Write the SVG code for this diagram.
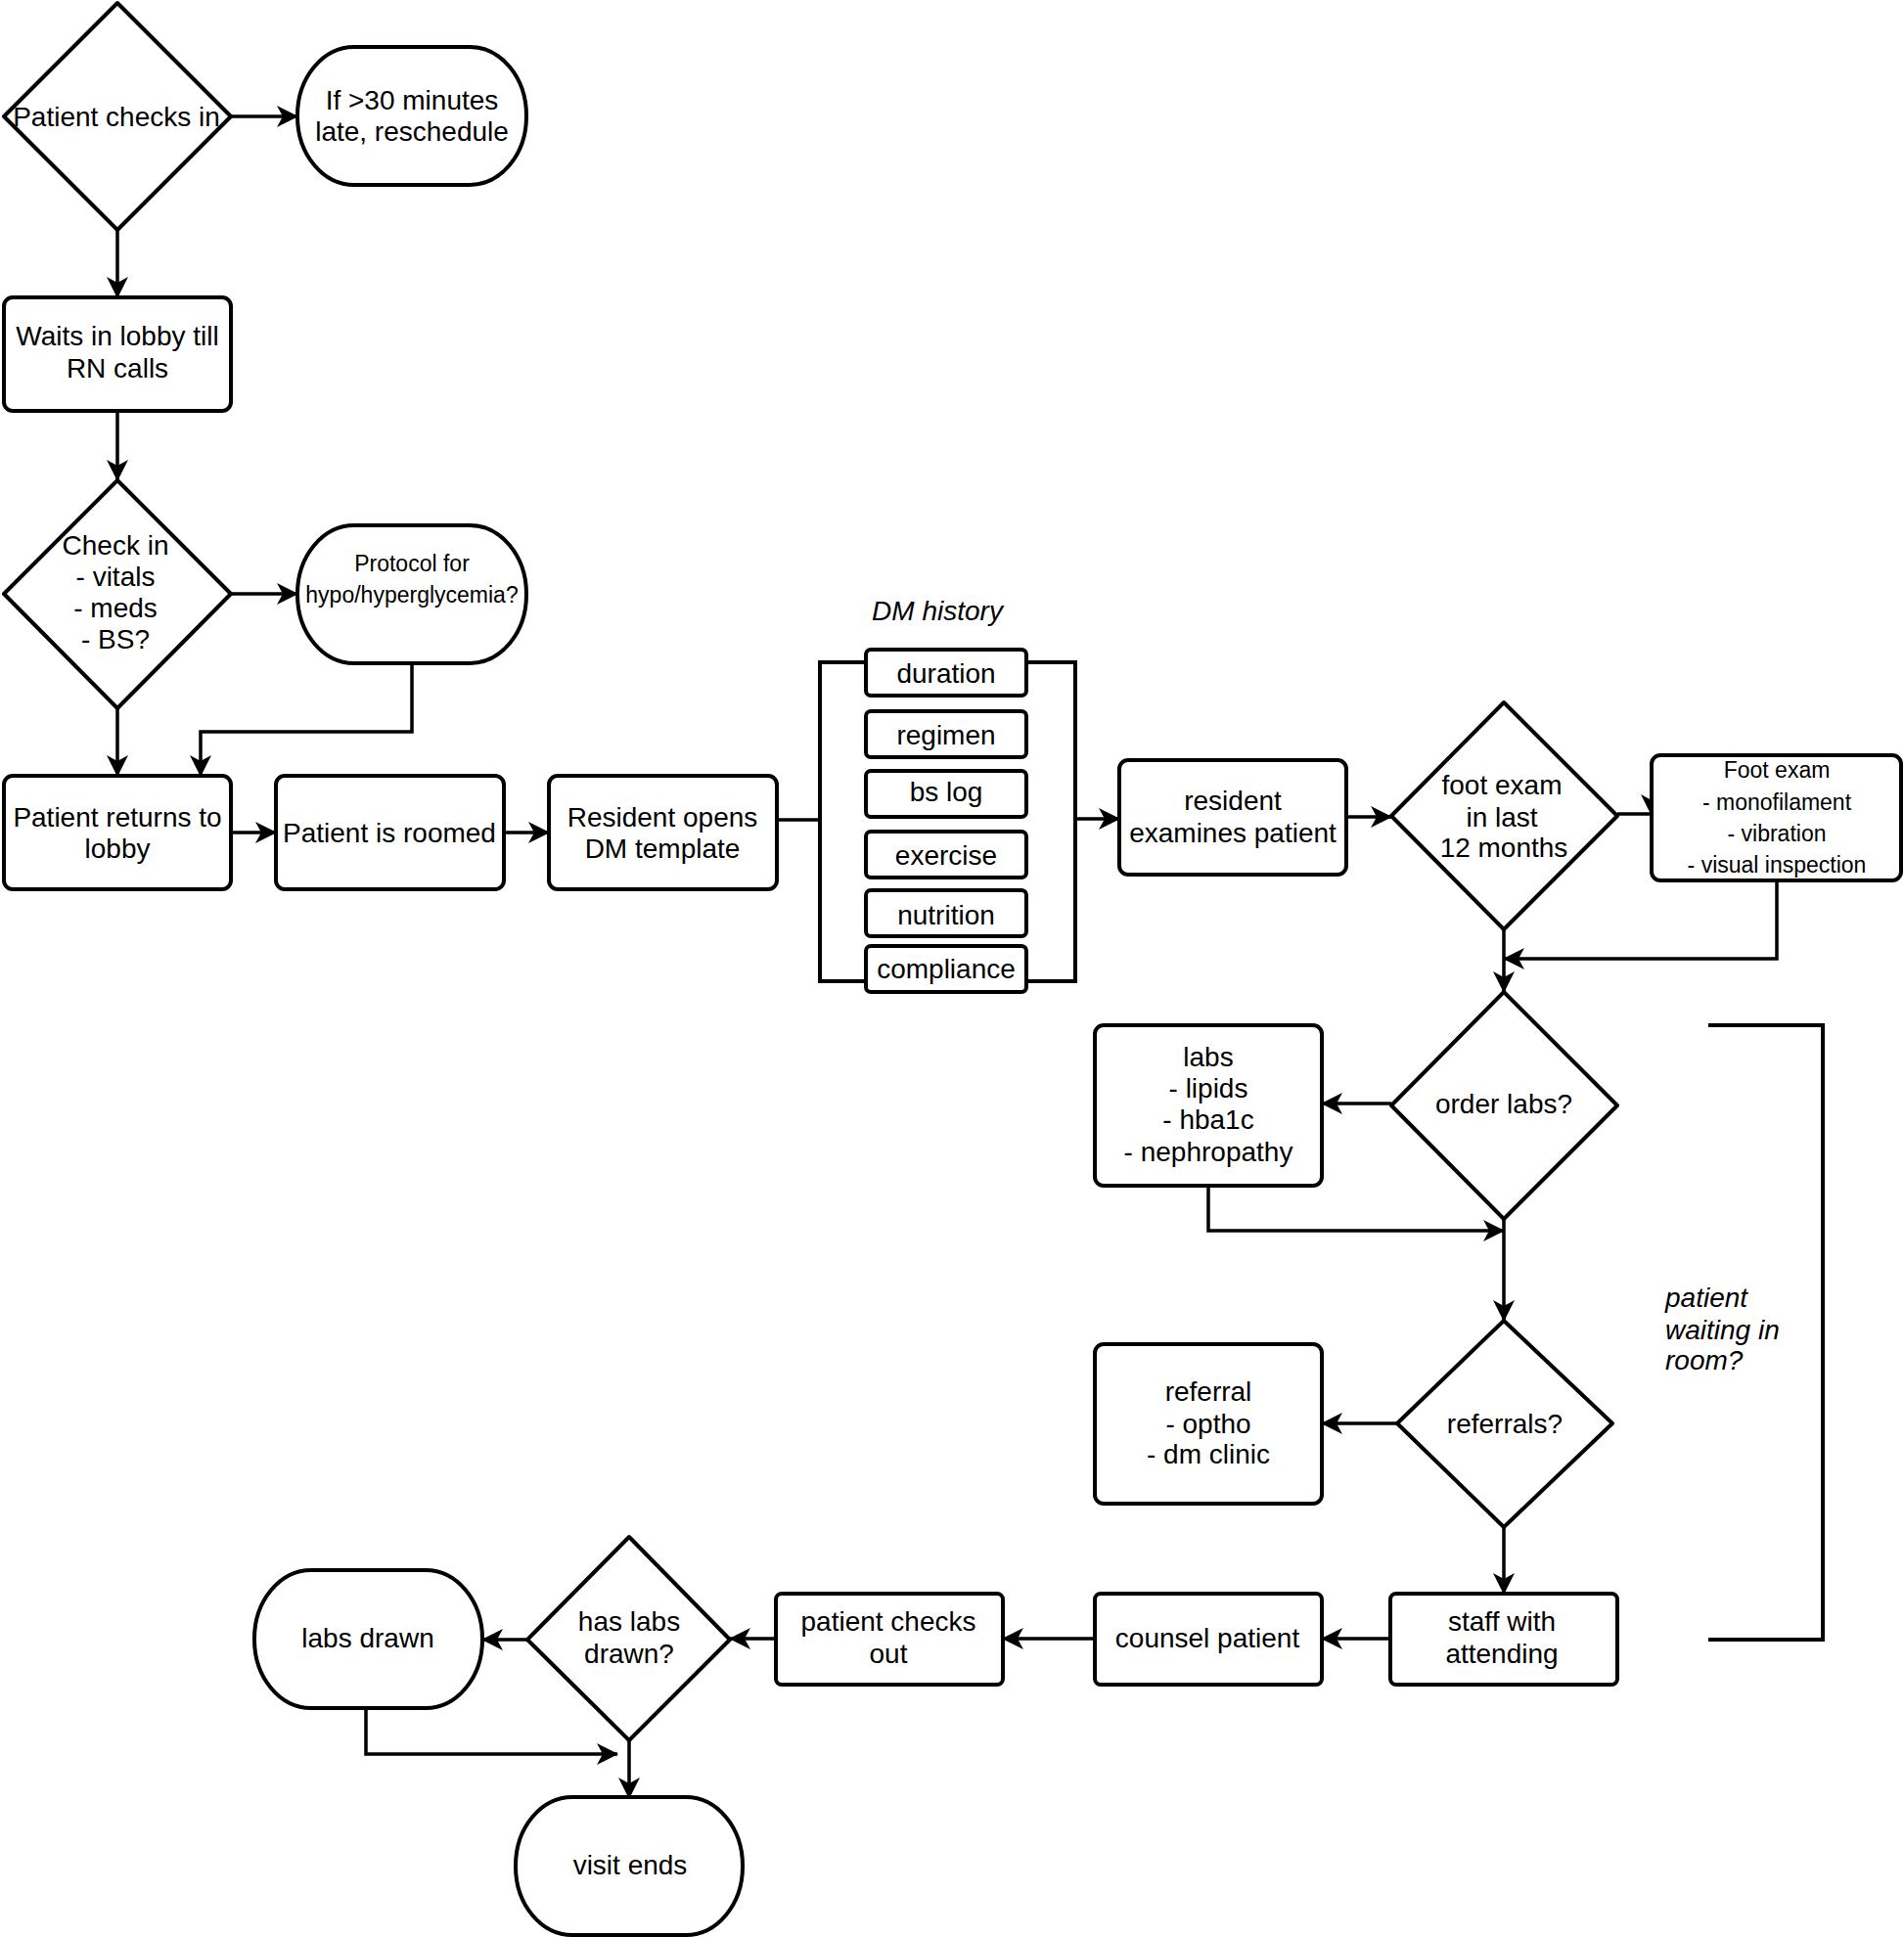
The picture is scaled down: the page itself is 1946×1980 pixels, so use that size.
<svg xmlns="http://www.w3.org/2000/svg" width="1946" height="1980" viewBox="0 0 1946 1980">
<defs>
<style>
.s{fill:#fff;stroke:#000;stroke-width:4;stroke-linejoin:round}
.c{fill:none;stroke:#000;stroke-width:3.5}
.br{fill:none;stroke:#000;stroke-width:4}
text{font-family:"Liberation Sans",Arial,Helvetica,sans-serif;font-size:28px;text-anchor:middle;fill:#000}
.sm{font-size:23px}
.it{font-style:italic}
.l{text-anchor:start}
</style>
<marker id="ah" viewBox="-24 -12 26 24" refX="0" refY="0" markerWidth="26" markerHeight="24" markerUnits="userSpaceOnUse" orient="auto">
<path d="M1,0 L-21,-11 L-15,0 L-21,11 Z" fill="#000"/>
</marker>
</defs>
<rect width="1946" height="1980" fill="#fff"/>

<g id="connectors">
<path class="c" d="M236 119 H304" marker-end="url(#ah)"/>
<path class="c" d="M120 235 V304" marker-end="url(#ah)"/>
<path class="c" d="M120 420 V491" marker-end="url(#ah)"/>
<path class="c" d="M236 607 H304" marker-end="url(#ah)"/>
<path class="c" d="M120 724 V793" marker-end="url(#ah)"/>
<path class="c" d="M421 678 V748 H205 V793" marker-end="url(#ah)"/>
<path class="c" d="M236 851 H282" marker-end="url(#ah)"/>
<path class="c" d="M515 851 H561" marker-end="url(#ah)"/>
<path class="c" d="M794 838 H838"/>
<path class="c" d="M1099 837 H1144" marker-end="url(#ah)"/>
<path class="c" d="M1376 835 H1422" marker-end="url(#ah)"/>
<path class="c" d="M1653 832 H1688 V833" marker-end="url(#ah)"/>
<path class="c" d="M1816 900 V980 H1537" marker-end="url(#ah)"/>
<path class="c" d="M1537 950 V1014" marker-end="url(#ah)"/>
<path class="c" d="M1422 1128 H1351" marker-end="url(#ah)"/>
<path class="c" d="M1235 1212 V1258 H1537" marker-end="url(#ah)"/>
<path class="c" d="M1537 1246 V1350" marker-end="url(#ah)"/>
<path class="c" d="M1428 1455 H1351" marker-end="url(#ah)"/>
<path class="c" d="M1537 1561 V1629" marker-end="url(#ah)"/>
<path class="c" d="M1421 1675 H1351" marker-end="url(#ah)"/>
<path class="c" d="M1119 1675 H1025" marker-end="url(#ah)"/>
<path class="c" d="M793 1675 H746" marker-end="url(#ah)"/>
<path class="c" d="M539 1676 H493" marker-end="url(#ah)"/>
<path class="c" d="M643 1779 V1838" marker-end="url(#ah)"/>
<path class="c" d="M374 1746 V1793 H631" marker-end="url(#ah)"/>
</g>

<g id="dm-bracket">
<path class="br" d="M885 677 H838 V1003 H885"/>
<path class="br" d="M1049 677 H1099 V1003 H1049"/>
</g>

<g id="wait-bracket">
<path class="br" d="M1746 1048 H1863 V1676 H1746"/>
</g>

<g id="n-checkin">
<polygon class="s" points="120,3 236,119 120,235 4,119"/>
<text x="119" y="129">Patient checks in</text>
</g>
<g id="n-late">
<rect class="s" x="304" y="48" width="234" height="141" rx="58" ry="70"/>
<text x="421" y="112">If &gt;30 minutes</text>
<text x="421" y="144">late, reschedule</text>
</g>
<g id="n-wait">
<rect class="s" x="4" y="304" width="232" height="116" rx="9"/>
<text x="120" y="353">Waits in lobby till</text>
<text x="120" y="386">RN calls</text>
</g>
<g id="n-check2">
<polygon class="s" points="120,491 236,607 120,724 4,607"/>
<text x="118" y="567">Check in</text>
<text x="118" y="599">- vitals</text>
<text x="118" y="631">- meds</text>
<text x="118" y="663">- BS?</text>
</g>
<g id="n-protocol">
<rect class="s" x="304" y="537" width="234" height="141" rx="58" ry="70"/>
<text class="sm" x="421" y="584">Protocol for</text>
<text class="sm" x="421" y="616">hypo/hyperglycemia?</text>
</g>
<g id="n-returns">
<rect class="s" x="4" y="793" width="232" height="116" rx="9"/>
<text x="120" y="845">Patient returns to</text>
<text x="120" y="877">lobby</text>
</g>
<g id="n-roomed">
<rect class="s" x="282" y="793" width="233" height="116" rx="9"/>
<text x="398" y="861">Patient is roomed</text>
</g>
<g id="n-template">
<rect class="s" x="561" y="793" width="233" height="116" rx="9"/>
<text x="677" y="845">Resident opens</text>
<text x="677" y="877">DM template</text>
</g>

<g id="n-dmhistory">
<text class="it" x="958" y="634">DM history</text>
</g>
<g id="n-duration">
<rect class="s" x="885" y="664" width="164" height="47" rx="5"/>
<text x="967" y="698">duration</text>
</g>
<g id="n-regimen">
<rect class="s" x="885" y="727" width="164" height="47" rx="5"/>
<text x="967" y="761">regimen</text>
</g>
<g id="n-bslog">
<rect class="s" x="885" y="788" width="164" height="47" rx="5"/>
<text x="967" y="819">bs log</text>
</g>
<g id="n-exercise">
<rect class="s" x="885" y="850" width="164" height="47" rx="5"/>
<text x="967" y="884">exercise</text>
</g>
<g id="n-nutrition">
<rect class="s" x="885" y="910" width="164" height="47" rx="5"/>
<text x="967" y="945">nutrition</text>
</g>
<g id="n-compliance">
<rect class="s" x="885" y="967" width="164" height="47" rx="5"/>
<text x="967" y="1000">compliance</text>
</g>

<g id="n-examines">
<rect class="s" x="1144" y="777" width="232" height="117" rx="9"/>
<text x="1260" y="828">resident</text>
<text x="1260" y="861">examines patient</text>
</g>
<g id="n-footq">
<polygon class="s" points="1537,718 1653,834 1537,950 1422,834"/>
<text x="1535" y="812">foot exam</text>
<text x="1535" y="845">in last</text>
<text x="1537" y="876">12 months</text>
</g>
<g id="n-footexam">
<rect class="s" x="1688" y="772" width="255" height="128" rx="9"/>
<text class="sm" x="1816" y="795">Foot exam</text>
<text class="sm" x="1816" y="828">- monofilament</text>
<text class="sm" x="1816" y="860">- vibration</text>
<text class="sm" x="1816" y="892">- visual inspection</text>
</g>
<g id="n-orderlabs">
<polygon class="s" points="1537,1014 1653,1130 1537,1246 1422,1130"/>
<text x="1537" y="1138">order labs?</text>
</g>
<g id="n-labs">
<rect class="s" x="1119" y="1048" width="232" height="164" rx="9"/>
<text x="1235" y="1090">labs</text>
<text x="1235" y="1122">- lipids</text>
<text x="1235" y="1154">- hba1c</text>
<text x="1235" y="1187">- nephropathy</text>
</g>
<g id="n-referrals">
<polygon class="s" points="1537,1350 1648,1455 1537,1561 1428,1455"/>
<text x="1538" y="1465">referrals?</text>
</g>
<g id="n-referral">
<rect class="s" x="1119" y="1374" width="232" height="163" rx="9"/>
<text x="1235" y="1432">referral</text>
<text x="1235" y="1465">- optho</text>
<text x="1235" y="1496">- dm clinic</text>
</g>
<g id="n-staff">
<rect class="s" x="1421" y="1629" width="232" height="93" rx="6"/>
<text x="1535" y="1667">staff with</text>
<text x="1535" y="1700">attending</text>
</g>
<g id="n-counsel">
<rect class="s" x="1119" y="1629" width="232" height="93" rx="6"/>
<text x="1234" y="1684">counsel patient</text>
</g>
<g id="n-checkout">
<rect class="s" x="793" y="1629" width="232" height="93" rx="6"/>
<text x="908" y="1667">patient checks</text>
<text x="908" y="1700">out</text>
</g>
<g id="n-haslabs">
<polygon class="s" points="643,1571 746,1676 643,1779 539,1676"/>
<text x="643" y="1667">has labs</text>
<text x="643" y="1700">drawn?</text>
</g>
<g id="n-labsdrawn">
<rect class="s" x="260" y="1605" width="233" height="141" rx="58" ry="70"/>
<text x="376" y="1684">labs drawn</text>
</g>
<g id="n-visitends">
<rect class="s" x="527" y="1837" width="232" height="141" rx="58" ry="70"/>
<text x="644" y="1916">visit ends</text>
</g>
<g id="n-waiting">
<text class="it l" x="1702" y="1336">patient</text>
<text class="it l" x="1702" y="1369">waiting in</text>
<text class="it l" x="1702" y="1400">room?</text>
</g>
</svg>
